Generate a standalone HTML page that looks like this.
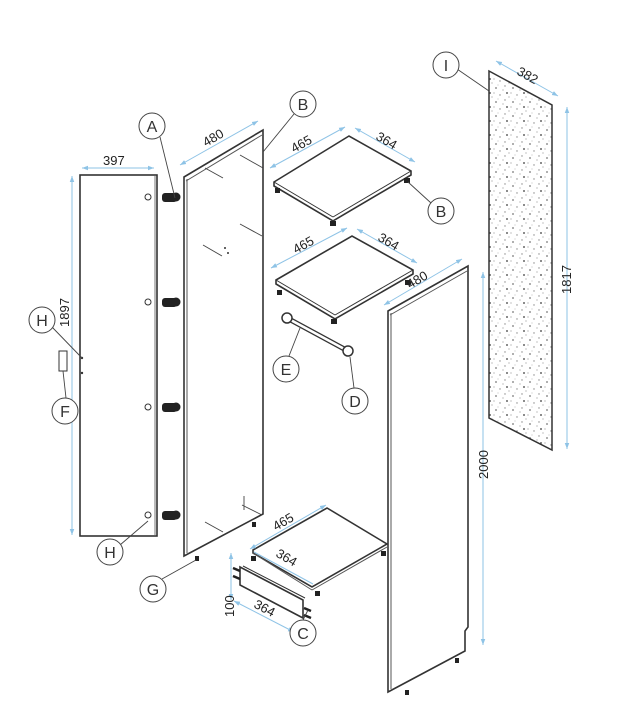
<!DOCTYPE html>
<html><head><meta charset="utf-8"><style>
html,body{margin:0;padding:0;background:#fff;}
svg{display:block;font-family:"Liberation Sans",sans-serif;}
.d{stroke:#8ec3e6;stroke-width:1;fill:none}
.p{fill:#fff;stroke:#333;stroke-width:1.6}
.t{font-size:13px;fill:#222}
.c{fill:#fff;stroke:#444;stroke-width:1}
.ct{font-size:16px;fill:#333;text-anchor:middle}
.l{stroke:#444;stroke-width:0.9}
</style></head><body>
<svg width="633" height="719" viewBox="0 0 633 719">
<defs>
<marker id="a" viewBox="0 0 8 8" refX="8" refY="4" markerWidth="6" markerHeight="6" orient="auto-start-reverse"><path d="M0,1L8,4L0,7z" fill="#8ec3e6"/></marker>
<pattern id="sp" width="17" height="14" patternUnits="userSpaceOnUse">
<circle cx="3" cy="4" r=".9" fill="#777"/><circle cx="12" cy="2" r=".7" fill="#888"/><circle cx="14" cy="9" r="1" fill="#666"/><circle cx="7" cy="11" r=".7" fill="#888"/><circle cx="10" cy="6" r=".6" fill="#999"/><circle cx="16" cy="13" r=".6" fill="#999"/><circle cx="1" cy="9" r=".6" fill="#999"/><circle cx="5" cy="1" r=".5" fill="#aaa"/></pattern>
</defs>

<!-- Door -->
<rect x="80" y="175" width="77" height="361" class="p" stroke-width="2"/>
<line x1="155" y1="176" x2="155" y2="535" stroke="#555" stroke-width=".8"/>
<line x1="82" y1="168" x2="154" y2="168" class="d" marker-start="url(#a)" marker-end="url(#a)"/>
<text x="103" y="165" class="t">397</text>
<line x1="72" y1="176" x2="72" y2="535" class="d" marker-start="url(#a)" marker-end="url(#a)"/>
<text class="t" transform="translate(69,327) rotate(-90)">1897</text>
<circle cx="82" cy="358" r="1.2" fill="#333"/><circle cx="82" cy="373" r="1.2" fill="#333"/>
<rect x="59" y="351" width="8" height="20" fill="#fff" stroke="#333"/>
<!-- hinges -->
<g id="h"><circle cx="148" cy="197" r="3" fill="#fff" stroke="#333"/><rect x="162" y="193" width="15" height="9" rx="3" fill="#222"/><circle cx="176" cy="197" r="4.5" fill="#222"/><circle cx="193" cy="195" r=".9" fill="#333"/><circle cx="193" cy="200" r=".9" fill="#333"/></g>
<use href="#h" y="105"/><use href="#h" y="210"/><use href="#h" y="318"/>

<!-- left side panel -->
<path d="M184,177 L263,130 L263,514 L184,556 Z" class="p" stroke-width="1.8"/>
<line x1="187" y1="179" x2="187" y2="553" stroke="#555"/>
<line x1="186" y1="181" x2="262" y2="135" stroke="#555"/>
<line x1="180" y1="165" x2="258" y2="121" class="d" marker-start="url(#a)" marker-end="url(#a)"/>
<text class="t" transform="translate(206,147) rotate(-30)">480</text>
<g class="l"><line x1="205" y1="168" x2="223" y2="178"/><line x1="240" y1="155" x2="263" y2="168"/><line x1="240" y1="224" x2="262" y2="236"/><line x1="203" y1="245" x2="222" y2="256"/><line x1="205" y1="522" x2="223" y2="532"/><line x1="242" y1="505" x2="262" y2="515"/></g>
<circle cx="225" cy="248" r="1" fill="#333"/><circle cx="228" cy="253" r="1" fill="#333"/>
<rect x="195" y="556" width="4" height="5" fill="#222"/><rect x="252" y="522" width="4" height="5" fill="#222"/>
<line x1="244" y1="496" x2="244" y2="510" stroke="#555"/>

<!-- shelf 1 -->
<path d="M274,182 L349,136 L411,171 L411,175 L333,221 L274,186 Z" class="p"/>
<line x1="274" y1="182" x2="333" y2="217" stroke="#333"/><line x1="333" y1="217" x2="411" y2="171" stroke="#333"/>
<rect x="275" y="188" width="5" height="5" fill="#222"/><rect x="330" y="221" width="6" height="5" fill="#222"/><rect x="404" y="178" width="6" height="5" fill="#222"/>
<line x1="270" y1="168" x2="345" y2="127" class="d" marker-start="url(#a)" marker-end="url(#a)"/>
<text class="t" transform="translate(294,153) rotate(-29)">465</text>
<line x1="355" y1="128" x2="415" y2="162" class="d" marker-start="url(#a)" marker-end="url(#a)"/>
<text class="t" transform="translate(375,139) rotate(30)">364</text>

<!-- shelf 2 -->
<path d="M276,280 L352,236 L413,270 L413,274 L335,319 L276,284 Z" class="p"/>
<line x1="276" y1="280" x2="335" y2="315" stroke="#333"/><line x1="335" y1="315" x2="413" y2="270" stroke="#333"/>
<rect x="277" y="290" width="5" height="5" fill="#222"/><rect x="331" y="319" width="6" height="5" fill="#222"/><rect x="405" y="280" width="5" height="5" fill="#222"/>
<line x1="271" y1="268" x2="347" y2="228" class="d" marker-start="url(#a)" marker-end="url(#a)"/>
<text class="t" transform="translate(296,254) rotate(-29)">465</text>
<line x1="357" y1="229" x2="417" y2="263" class="d" marker-start="url(#a)" marker-end="url(#a)"/>
<text class="t" transform="translate(377,240) rotate(30)">364</text>

<!-- rod -->
<line x1="287" y1="318" x2="348" y2="351" stroke="#333" stroke-width="5"/>
<line x1="287" y1="318" x2="348" y2="351" stroke="#fff" stroke-width="2.5"/>
<circle cx="287" cy="318" r="5" fill="#fff" stroke="#333" stroke-width="1.5"/><circle cx="348" cy="351" r="5" fill="#fff" stroke="#333" stroke-width="1.5"/>

<!-- right side panel -->
<path d="M388,311 L468,266 L468,627 L465,631 L465,651 L388,692 Z" class="p" stroke-width="1.8"/>
<line x1="391" y1="313" x2="391" y2="689" stroke="#555"/>
<line x1="390" y1="315" x2="467" y2="271" stroke="#555"/>
<line x1="384" y1="305" x2="462" y2="259" class="d" marker-start="url(#a)" marker-end="url(#a)"/>
<text class="t" transform="translate(410,289) rotate(-30)">480</text>
<circle cx="409" cy="283" r="2.5" fill="#222"/>
<line x1="483" y1="272" x2="483" y2="645" class="d" marker-start="url(#a)" marker-end="url(#a)"/>
<text class="t" transform="translate(488,479) rotate(-90)">2000</text>
<rect x="405" y="690" width="4" height="5" fill="#222"/><rect x="455" y="658" width="4" height="5" fill="#222"/>

<!-- bottom shelf -->
<path d="M253,550 L327,508 L387,544 L312,587 L253,553 Z" class="p"/>
<line x1="253" y1="553" x2="312" y2="590" stroke="#555"/><line x1="312" y1="590" x2="387" y2="547" stroke="#555"/>
<rect x="251" y="556" width="5" height="5" fill="#222"/><rect x="315" y="591" width="5" height="5" fill="#222"/><rect x="381" y="551" width="5" height="5" fill="#222"/>
<line x1="250" y1="549" x2="326" y2="505" class="d" marker-start="url(#a)" marker-end="url(#a)"/>
<text class="t" transform="translate(276,531) rotate(-30)">465</text>
<line x1="254" y1="552" x2="313" y2="584" class="d"/>
<text class="t" transform="translate(275,556) rotate(30)">364</text>

<!-- plinth -->
<path d="M240,567 L303,600 L303,618 L240,585 Z" class="p"/>
<line x1="243" y1="566" x2="305" y2="598" stroke="#333"/>
<g stroke="#222" stroke-width="2.5"><line x1="233" y1="568" x2="240" y2="571"/><line x1="233" y1="576" x2="240" y2="579"/><line x1="304" y1="608" x2="311" y2="611"/><line x1="304" y1="615" x2="311" y2="618"/></g>
<line x1="231" y1="553" x2="231" y2="600" class="d" marker-start="url(#a)" marker-end="url(#a)"/>
<text class="t" transform="translate(234,617) rotate(-90)">100</text>
<line x1="234" y1="601" x2="294" y2="632" class="d" marker-start="url(#a)" marker-end="url(#a)"/>
<text class="t" transform="translate(253,607) rotate(28)">364</text>

<!-- back panel I -->
<path d="M489,71 L552,105 L552,450 L489,418 Z" fill="url(#sp)" stroke="#333" stroke-width="1.5"/>
<line x1="496" y1="61" x2="558" y2="96" class="d" marker-start="url(#a)" marker-end="url(#a)"/>
<text class="t" transform="translate(516,74) rotate(29)">382</text>
<line x1="567" y1="107" x2="567" y2="449" class="d" marker-start="url(#a)" marker-end="url(#a)"/>
<text class="t" transform="translate(571,294) rotate(-90)">1817</text>

<!-- callouts -->
<g class="l">
<line x1="160" y1="137" x2="175" y2="198"/>
<line x1="294" y1="114" x2="263" y2="152"/>
<line x1="431" y1="203" x2="408" y2="182"/>
<line x1="457" y1="69" x2="489" y2="91"/>
<line x1="52" y1="327" x2="82" y2="358"/>
<line x1="66" y1="398" x2="63" y2="371"/>
<line x1="120" y1="545" x2="148" y2="521"/>
<line x1="289" y1="356" x2="300" y2="328"/>
<line x1="354" y1="388" x2="350" y2="357"/>
<line x1="162" y1="579" x2="196" y2="560"/>
<line x1="303" y1="620" x2="308" y2="610"/>
</g>
<g>
<circle cx="152" cy="126" r="13" class="c"/><text x="152" y="132" class="ct">A</text>
<circle cx="303" cy="104" r="13" class="c"/><text x="303" y="110" class="ct">B</text>
<circle cx="441" cy="211" r="13" class="c"/><text x="441" y="217" class="ct">B</text>
<circle cx="446" cy="65" r="13" class="c"/><text x="446" y="71" class="ct">I</text>
<circle cx="42" cy="320" r="13" class="c"/><text x="42" y="326" class="ct">H</text>
<circle cx="65" cy="411" r="13" class="c"/><text x="65" y="417" class="ct">F</text>
<circle cx="110" cy="552" r="13" class="c"/><text x="110" y="558" class="ct">H</text>
<circle cx="286" cy="369" r="13" class="c"/><text x="286" y="375" class="ct">E</text>
<circle cx="355" cy="401" r="13" class="c"/><text x="355" y="407" class="ct">D</text>
<circle cx="153" cy="589" r="13" class="c"/><text x="153" y="595" class="ct">G</text>
<circle cx="303" cy="633" r="13" class="c"/><text x="303" y="639" class="ct">C</text>
</g>
</svg>
</body></html>
